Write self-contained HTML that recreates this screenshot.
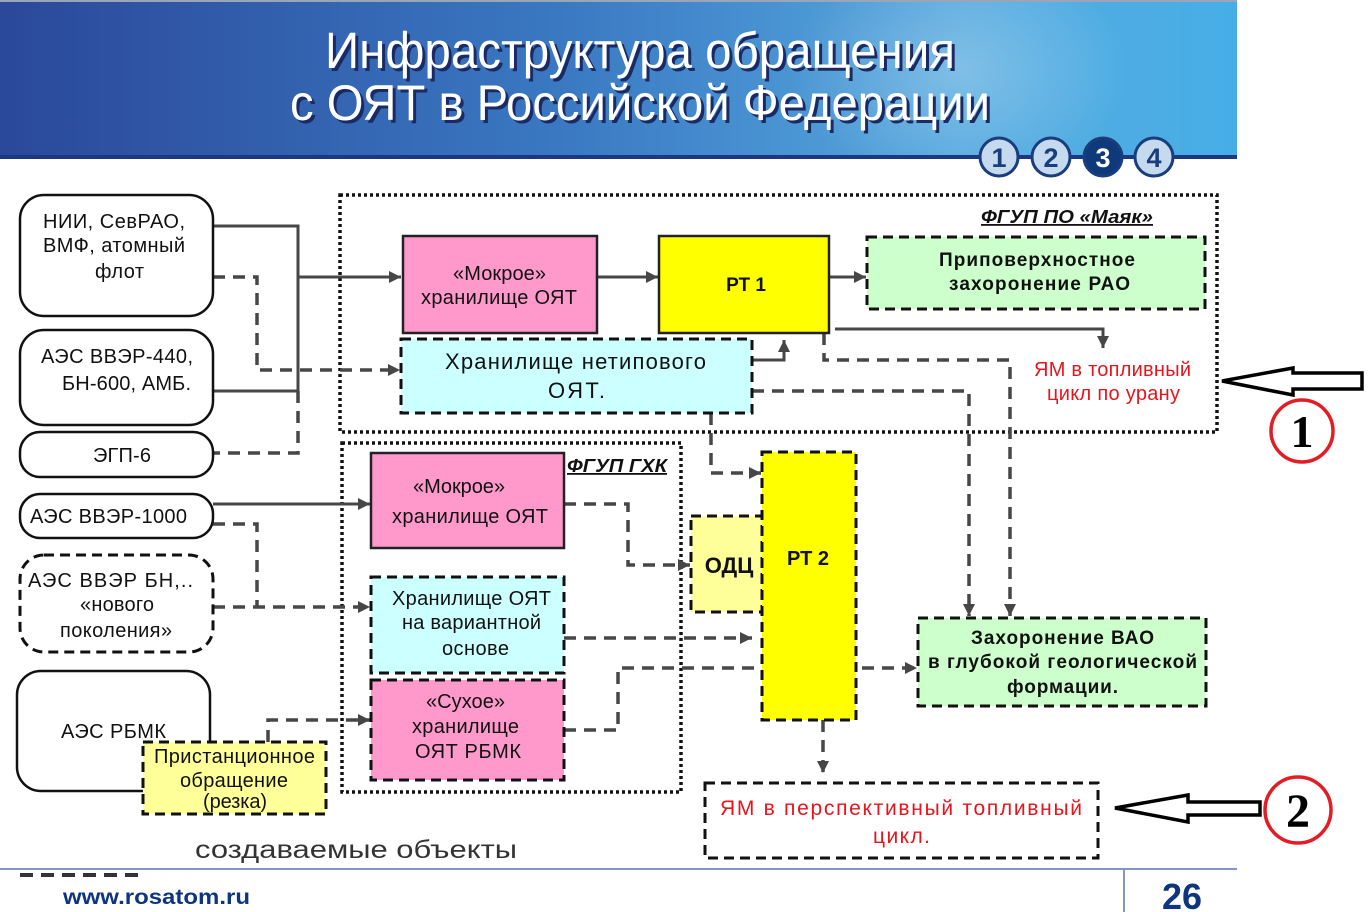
<!DOCTYPE html>
<html><head><meta charset="utf-8"><style>
html,body{margin:0;padding:0;background:#fff;}
svg{display:block;}
text{font-family:"Liberation Sans","Noto Sans CJK SC",Arial,sans-serif;}
</style></head><body>
<svg width="1371" height="912" viewBox="0 0 1371 912" xmlns="http://www.w3.org/2000/svg">
<defs>
<linearGradient id="hg" x1="0" y1="0" x2="1" y2="0">
 <stop offset="0" stop-color="#2b4899"/>
 <stop offset="0.45" stop-color="#3a78c2"/>
 <stop offset="0.78" stop-color="#56aadf"/>
 <stop offset="1" stop-color="#46aee6"/>
</linearGradient>
<radialGradient id="sw" cx="0.5" cy="0.5" r="0.5">
 <stop offset="0" stop-color="#ffffff" stop-opacity="0.25"/>
 <stop offset="1" stop-color="#ffffff" stop-opacity="0"/>
</radialGradient>
<marker id="ah" markerWidth="12" markerHeight="12" refX="12" refY="6" orient="auto" markerUnits="userSpaceOnUse">
 <path d="M0,0 L12,6 L0,12 z" fill="#474747"/>
</marker>
</defs>

<!-- Header -->
<rect x="0" y="0" width="1237" height="157" fill="url(#hg)"/>
<ellipse cx="960" cy="70" rx="170" ry="120" fill="url(#sw)"/>
<rect x="0" y="0" width="1237" height="2" fill="#9aa6b8"/>
<rect x="0" y="155" width="1237" height="4" fill="#1c3884"/>

<text x="328" y="71" font-size="51" fill="#1a2a64" textLength="630" lengthAdjust="spacingAndGlyphs">Инфраструктура обращения</text>
<text x="325" y="68" font-size="51" fill="#ffffff" textLength="630" lengthAdjust="spacingAndGlyphs">Инфраструктура обращения</text>
<text x="293" y="123" font-size="50" fill="#1a2a64" textLength="700" lengthAdjust="spacingAndGlyphs">с ОЯТ в Российской Федерации</text>
<text x="290" y="120" font-size="50" fill="#ffffff" textLength="700" lengthAdjust="spacingAndGlyphs">с ОЯТ в Российской Федерации</text>

<!-- numbered circles -->
<g stroke="#1a3d7c" stroke-width="3">
 <circle cx="999" cy="157" r="19" fill="#c6daef"/>
 <circle cx="1051" cy="157" r="19" fill="#c6daef"/>
 <circle cx="1103" cy="157" r="19" fill="#0e3a7c"/>
 <circle cx="1154" cy="157" r="19" fill="#c6daef"/>
</g>
<g font-size="27" font-weight="bold" text-anchor="middle">
 <text x="999" y="167" fill="#1a3d7c">1</text>
 <text x="1051" y="167" fill="#1a3d7c">2</text>
 <text x="1103" y="167" fill="#ffffff">3</text>
 <text x="1154" y="167" fill="#1a3d7c">4</text>
</g>

<!-- dotted group boxes -->
<g fill="none" stroke="#111" stroke-width="3.5" stroke-dasharray="3 3">
 <rect x="340" y="195" width="877" height="237"/>
 <rect x="342" y="443" width="339" height="349"/>
</g>

<!-- solid connectors -->
<g fill="none" stroke="#474747" stroke-width="3">
 <path d="M213,226 H298 V391 H213"/>
 <path d="M298,277 H401" marker-end="url(#ah)"/>
 <path d="M597,277 H658" marker-end="url(#ah)"/>
 <path d="M829,277 H866" marker-end="url(#ah)"/>
 <path d="M752,360 H784 V340" marker-end="url(#ah)"/>
 <path d="M835,329 H1103 V348" marker-end="url(#ah)"/>
 <path d="M213,504 H370" marker-end="url(#ah)"/>
</g>

<!-- dashed connectors -->
<g fill="none" stroke="#474747" stroke-width="3.5" stroke-dasharray="12 8">
 <path d="M213,277 H257 V370 H400" marker-end="url(#ah)"/>
 <path d="M298,391 V453 H213"/>
 <path d="M213,524 H257 V607"/>
 <path d="M213,607 H370" marker-end="url(#ah)"/>
 <path d="M268,742 V720 H370" marker-end="url(#ah)"/>
 <path d="M564,504 H628 V565 H690" marker-end="url(#ah)"/>
 <path d="M564,638 H752" marker-end="url(#ah)"/>
 <path d="M564,730 H618 V668 H917" marker-end="url(#ah)"/>
 <path d="M711,413 V473 H761" marker-end="url(#ah)"/>
 <path d="M824,333 V360 H1010 V616" marker-end="url(#ah)"/>
 <path d="M752,391 H969 V616" marker-end="url(#ah)"/>
 <path d="M823,720 V773" marker-end="url(#ah)"/>
</g>

<!-- left solid rounded boxes -->
<g fill="#fff" stroke="#111" stroke-width="2.5">
 <rect x="20" y="195" width="193" height="121" rx="24"/>
 <rect x="20" y="330" width="193" height="95" rx="24"/>
 <rect x="20" y="432" width="193" height="45" rx="20"/>
 <rect x="20" y="494" width="193" height="44" rx="20"/>
 <rect x="17" y="671" width="193" height="120" rx="24"/>
</g>
<rect x="20" y="555" width="193" height="97" rx="24" fill="#fff" stroke="#111" stroke-width="3" stroke-dasharray="10 6"/>

<!-- Mayak boxes -->
<rect x="403" y="236" width="194" height="97" fill="#ff99cc" stroke="#222" stroke-width="2.5"/>
<rect x="659" y="236" width="170" height="97" fill="#ffff00" stroke="#222" stroke-width="2.5"/>
<g stroke="#111" stroke-width="3" stroke-dasharray="10 6">
 <rect x="867" y="237" width="338" height="72" fill="#ccffcc"/>
 <rect x="401" y="339" width="351" height="74" fill="#ccffff"/>
</g>

<!-- GHK boxes -->
<rect x="371" y="453" width="193" height="95" fill="#ff99cc" stroke="#222" stroke-width="2.5"/>
<g stroke="#111" stroke-width="3" stroke-dasharray="10 6">
 <rect x="371" y="577" width="193" height="96" fill="#ccffff"/>
 <rect x="371" y="680" width="193" height="100" fill="#ff99cc"/>
 <rect x="691" y="516" width="71" height="96" fill="#ffff99"/>
 <rect x="762" y="452" width="94" height="268" fill="#ffff00"/>
 <rect x="918" y="618" width="288" height="88" fill="#ccffcc"/>
 <rect x="705" y="783" width="393" height="75" fill="#ffffff"/>
 <rect x="143" y="742" width="183" height="72" fill="#ffff99"/>
</g>

<!-- outline arrows & numbered circles -->
<path d="M1222,381 L1293,368 L1293,373 L1362,373 L1362,389 L1293,389 L1293,395 Z" fill="#fff" stroke="#000" stroke-width="3.5" stroke-linejoin="miter"/>
<circle cx="1302" cy="431" r="31" fill="#fff" stroke="#e21d25" stroke-width="3.5"/>
<text x="1302" y="447" font-size="46" font-weight="bold" text-anchor="middle" fill="#000" style="font-family:'Liberation Serif',serif">1</text>
<path d="M1115,808 L1188,795 L1188,802 L1260,802 L1260,815 L1188,815 L1188,822 Z" fill="#fff" stroke="#000" stroke-width="3.5"/>
<circle cx="1298" cy="810" r="33" fill="#fff" stroke="#e21d25" stroke-width="3.5"/>
<text x="1298" y="827" font-size="48" font-weight="bold" text-anchor="middle" fill="#000" style="font-family:'Liberation Serif',serif">2</text>

<!-- texts -->
<g font-size="20" fill="#111" lengthAdjust="spacingAndGlyphs">
 <text x="43" y="228" textLength="142">НИИ, СевРАО,</text>
 <text x="43" y="252" textLength="142">ВМФ, атомный</text>
 <text x="95" y="278" textLength="49">флот</text>
 <text x="41" y="363" textLength="152">АЭС ВВЭР-440,</text>
 <text x="62" y="390" textLength="129">БН-600, АМБ.</text>
 <text x="93" y="462" textLength="58">ЭГП-6</text>
 <text x="30" y="523" textLength="157">АЭС ВВЭР-1000</text>
 <text x="28" y="587" textLength="165">АЭС ВВЭР  БН,..</text>
 <text x="80" y="611" textLength="74">«нового</text>
 <text x="60" y="637" textLength="112">поколения»</text>
 <text x="61" y="738" textLength="105">АЭС РБМК</text>
 <text x="154" y="763" textLength="161">Пристанционное</text>
 <text x="180" y="787" textLength="108">обращение</text>
 <text x="203" y="808" textLength="64">(резка)</text>

 <text x="453" y="280" textLength="93">«Мокрое»</text>
 <text x="421" y="304" textLength="156">хранилище ОЯТ</text>
 <text x="413" y="493" textLength="92">«Мокрое»</text>
 <text x="392" y="523" textLength="156">хранилище ОЯТ</text>
 <text x="392" y="605" textLength="159">Хранилище ОЯТ</text>
 <text x="402" y="629" textLength="139">на вариантной</text>
 <text x="442" y="655" textLength="67">основе</text>
 <text x="426" y="708" textLength="79">«Сухое»</text>
 <text x="412" y="733" textLength="107">хранилище</text>
 <text x="415" y="758" textLength="106">ОЯТ РБМК</text>
</g>
<g font-size="22" fill="#111" lengthAdjust="spacingAndGlyphs">
 <text x="445" y="369" textLength="261">Хранилище нетипового</text>
 <text x="548" y="398" textLength="57">ОЯТ.</text>
</g>
<g font-weight="bold" fill="#111" text-anchor="middle">
 <text x="746" y="291" font-size="19">РТ 1</text>
 <text x="808" y="565" font-size="20">РТ 2</text>
 <text x="729" y="573" font-size="22">ОДЦ</text>
</g>
<g font-weight="bold" fill="#111" font-size="19" lengthAdjust="spacingAndGlyphs">
 <text x="939" y="266" textLength="196">Приповерхностное</text>
 <text x="949" y="290" textLength="181">захоронение РАО</text>
 <text x="971" y="644" textLength="183">Захоронение ВАО</text>
 <text x="928" y="668" textLength="269">в глубокой геологической</text>
 <text x="1007" y="693" textLength="111">формации.</text>
</g>
<g font-weight="bold" font-style="italic" fill="#111" text-decoration="underline">
 <text x="981" y="223" font-size="18" textLength="172" lengthAdjust="spacingAndGlyphs">ФГУП ПО «Маяк»</text>
 <text x="567" y="472" font-size="18" textLength="100" lengthAdjust="spacingAndGlyphs">ФГУП ГХК</text>
</g>
<g font-size="20" fill="#e8141c" lengthAdjust="spacingAndGlyphs">
 <text x="1034" y="376" textLength="157">ЯМ в топливный</text>
 <text x="1047" y="400" textLength="133">цикл по урану</text>
 <text x="720" y="815" font-size="21" textLength="362">ЯМ в перспективный топливный</text>
 <text x="873" y="843" font-size="21" textLength="57">цикл.</text>
</g>

<!-- legend & footer -->
<text x="195" y="858" font-size="25" fill="#333" textLength="322" lengthAdjust="spacingAndGlyphs">создаваемые объекты</text>
<path d="M0,869 H1237" stroke="#8496bf" stroke-width="2"/>
<path d="M1124,869 V912" stroke="#8496bf" stroke-width="2"/>
<path d="M20,875 H143" stroke="#333" stroke-width="4" stroke-dasharray="13 8"/>
<text x="63" y="904" font-size="21" font-weight="bold" fill="#0d3580" textLength="187" lengthAdjust="spacingAndGlyphs">www.rosatom.ru</text>
<text x="1182" y="909" font-size="36" font-weight="bold" fill="#0d3580" text-anchor="middle">26</text>
</svg>
</body></html>
